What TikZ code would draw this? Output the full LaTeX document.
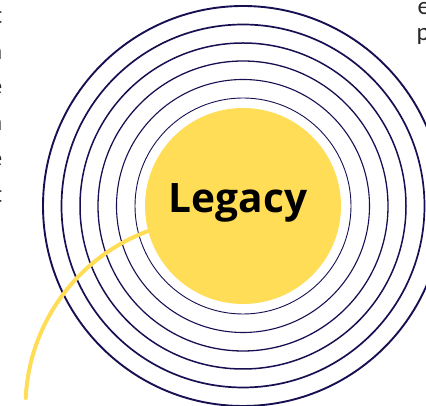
\documentclass[tikz,border=0pt]{standalone}
\usepackage{fontspec}
\setmainfont{Carlito}
\newfontfamily\legfont{Open Sans}
\definecolor{ringblue}{RGB}{22,16,82}
\definecolor{legyellow}{RGB}{255,221,87}
\definecolor{fragtext}{RGB}{40,40,40}
\tikzset{
  ring/.style={draw=ringblue},
  legcircle/.style={circle, fill=legyellow, draw=none, minimum size=196pt, inner sep=0pt},
  legtext/.style={font=\legfont\bfseries\fontsize{40.6}{48}\selectfont, text=black, inner sep=0pt},
  yellowarc/.style={draw=legyellow, line width=4pt, line cap=round},
  frag/.style={font=\fontsize{25}{30}\selectfont, text=fragtext, inner sep=0pt}
}
\begin{document}
\begin{tikzpicture}[x=1pt,y=1pt]
\useasboundingbox (0,0) rectangle (426,406);
\clip (0,0) rectangle (426,406);
\coordinate (c) at (243,200);
\coordinate (arcc) at (213,-1);
% rings
\draw[ring, line width=1.9pt] (c) circle[radius=200];
\draw[ring, line width=1.7pt] (c) circle[radius=181.5];
\draw[ring, line width=1.5pt] (c) circle[radius=163];
\draw[ring, line width=1.3pt] (c) circle[radius=145];
\draw[ring, line width=1.1pt] (c) circle[radius=126.5];
\draw[ring, line width=0.9pt] (c) circle[radius=108];
% yellow arc
\draw[yellowarc] (arcc) ++(105:187.5) arc[start angle=105, end angle=177.25, radius=187.5] coordinate (tail);
% central circle
\node[legcircle] (legacy) at (c) {};
\node[legtext, anchor=base] (legacylabel) at (238,193) {Legacy};
% cut-off text fragments at the edges
\node[frag, anchor=base east] (l1) at (2.5,382) {t};
\node[frag, anchor=base east] (l2) at (2.5,346) {n};
\node[frag, anchor=base east] (l3) at (2.5,311) {e};
\node[frag, anchor=base east] (l4) at (2.5,275) {n};
\node[frag, anchor=base east] (l5) at (2.5,239) {e};
\node[frag, anchor=base east] (l6) at (2.5,203) {t};
\node[frag, anchor=base west] (r1) at (417.5,391) {e};
\node[frag, anchor=base west] (r2) at (416.5,365) {p};
\end{tikzpicture}
\end{document}
